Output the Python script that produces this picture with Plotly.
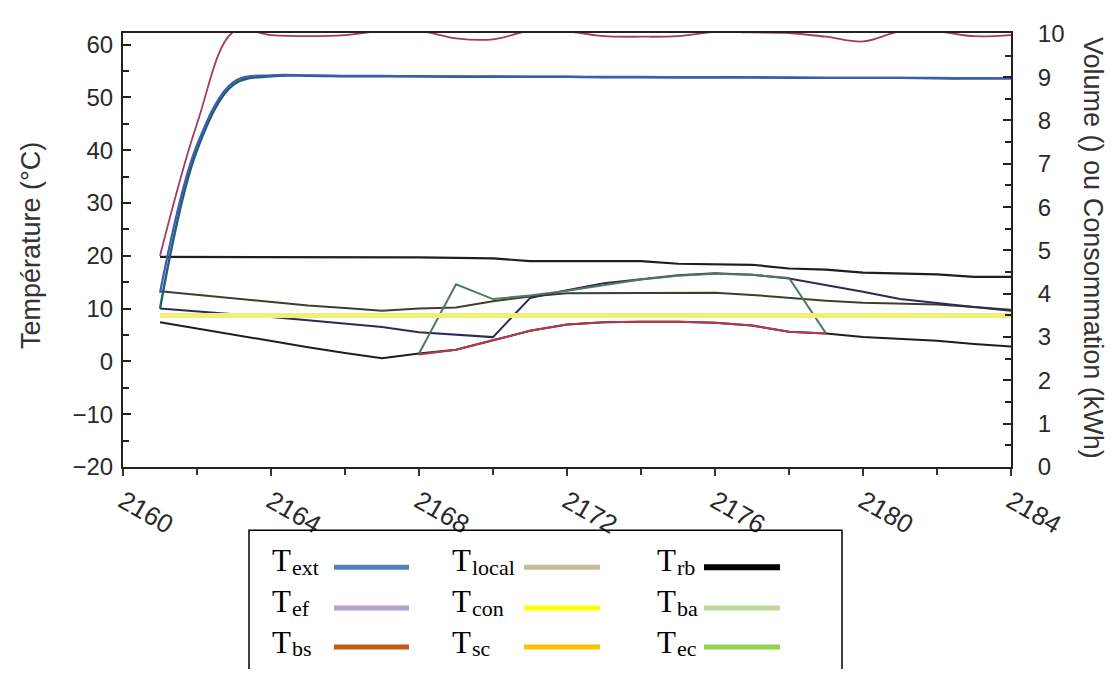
import plotly.graph_objects as go

# ---------------- data (hours 2161 .. 2184) ----------------
hours = [2161, 2162, 2163, 2164, 2165, 2166, 2167, 2168, 2169, 2170, 2171, 2172,
         2173, 2174, 2175, 2176, 2177, 2178, 2179, 2180, 2181, 2182, 2183, 2184]

t_ef = [20.0, 45.0, 62.5, 61.8, 61.6, 61.8, 62.6, 62.6, 61.2, 61.0, 62.6, 62.5,
        61.6, 61.5, 61.6, 62.4, 62.3, 62.2, 61.5, 60.6, 62.5, 62.5, 61.6, 61.8]

t_ext = [13.0, 41.0, 53.0, 54.2, 54.2, 54.1, 54.1, 54.0, 54.0, 54.0, 53.9, 53.9,
         53.9, 53.9, 53.8, 53.8, 53.8, 53.8, 53.7, 53.7, 53.7, 53.7, 53.6, 53.6]

t_ba = [10.0, 40.0, 52.5, 54.0, 54.1, 54.0, 54.0, 54.0, 53.9, 53.9, 53.9, 53.9,
        53.8, 53.8, 53.8, 53.8, 53.8, 53.7, 53.7, 53.7, 53.7, 53.6, 53.6, 53.6]

t_local = [19.8, 19.8, 19.8, 19.8, 19.8, 19.7, 19.7, 19.7, 19.6, 19.5, 19.0, 19.0,
           19.0, 19.0, 18.5, 18.4, 18.3, 17.6, 17.4, 16.8, 16.6, 16.5, 16.0, 16.0]

t_rb = [13.3, 12.6, 11.9, 11.2, 10.6, 10.1, 9.6, 10.0, 10.2, 11.4, 12.3, 12.9,
        12.9, 12.9, 13.0, 13.0, 12.6, 12.0, 11.5, 11.1, 11.0, 10.8, 10.3, 9.8]

t_bs = [10.0, 9.5, 9.0, 8.4, 7.8, 7.1, 6.5, 5.5, 5.0, 4.6, 12.0, 13.5,
        14.8, 15.6, 16.3, 16.7, 16.4, 15.7, 14.5, 13.2, 11.8, 11.0, 10.3, 9.6]

t_sc_low = [7.4, 6.2, 5.0, 3.8, 2.7, 1.6, 0.6, 1.5, 2.2, 4.0, 5.8, 7.0,
            7.4, 7.5, 7.5, 7.3, 6.8, 5.6, 5.3, 4.6, 4.2, 3.9, 3.3, 2.8]

t_red = [None, None, None, None, None, None, None, 1.3, 2.2, 4.0, 5.8, 7.0,
         7.4, 7.5, 7.5, 7.3, 6.8, 5.6, 5.3, None, None, None, None, None]

t_ec = [None, None, None, None, None, None, None, 1.5, 14.6, 11.8, 12.5, 13.4,
        14.5, 15.5, 16.2, 16.6, 16.4, 15.8, 5.3, None, None, None, None, None]

# consumption / volume (right axis)
t_con = [3.5, 3.5, 3.5, 3.5, 3.5, 3.5, 3.5, 3.5, 3.5, 3.5, 3.5, 3.5,
         3.5, 3.5, 3.5, 3.5, 3.5, 3.5, 3.5, 3.5, 3.5, 3.5, 3.5, 3.5]

x_ticks = [2160, 2164, 2168, 2172, 2176, 2180, 2184]
y2_ticks = [0, 1, 2, 3, 4, 5, 6, 7, 8, 9, 10]

legend_items = [
    ("ext", "#4F81BD"), ("ef", "#B3A2C7"), ("bs", "#C55A11"),
    ("local", "#C4BD97"), ("con", "#FFFF00"), ("sc", "#FFC000"),
    ("rb", "#000000"), ("ba", "#C3D69B"), ("ec", "#92D050"),
]

# ---------------- figure ----------------
OFF = 8                      # page body margin of the html page
W, H = 1102, 661
L, R, T, B = 115, 99, 13, 202
PW, PH = W - L - R, H - T - B


def px(x_ref):
    return (x_ref - OFF - L) / PW


def py(y_ref):
    return (H - B - (y_ref - OFF)) / PH


fig = go.Figure()

fig.add_trace(go.Scatter(x=hours, y=t_con, yaxis="y2", mode="lines", name="Tcon",
                         line=dict(color="#EFEF78", width=5), showlegend=False))


def add(y, color, name, width=2.0, dash="solid", shape="linear"):
    fig.add_trace(go.Scatter(x=hours, y=y, mode="lines", name=name,
                             line=dict(color=color, width=width, dash=dash, shape=shape),
                             showlegend=False, connectgaps=False))


add(t_local, "#1E1E1E", "Tlocal", 2.2)
add(t_rb, "#3E3E30", "Trb", 2.0)
add(t_bs, "#2B2B58", "Tbs", 2.0)
add(t_sc_low, "#1E1E1E", "Tsc", 2.0)
add(t_red, "#B8384A", "Tsc2", 2.0)
add(t_ec, "#4E7A5E", "Tec", 2.0)
add(t_ba, "#1F5F70", "Tba", 2.4, shape="spline")
add(t_ext, "#3D5DB5", "Text", 2.2, shape="spline")
add(t_ef, "#A03C62", "Tef", 1.8, shape="spline")

sans = "Liberation Sans, Arial, sans-serif"
ytickfont = dict(family=sans, size=24, color="#2a2a2a")
xtickfont = dict(family=sans, size=26, color="#2a2a2a")

fig.update_layout(
    width=W, height=H,
    margin=dict(l=L, r=R, t=T, b=B),
    paper_bgcolor="white", plot_bgcolor="white",
    xaxis=dict(range=[2160, 2184], tickvals=x_ticks, ticktext=[str(v) for v in x_ticks],
               tickangle=30, ticks="outside", ticklen=7, tickwidth=1.5, tickcolor="#333",
               minor=dict(dtick=2, tick0=2160, ticks="outside", ticklen=6, tickcolor="#333"),
               showline=True, linecolor="#222", linewidth=2, mirror=True,
               showgrid=False, zeroline=False, tickfont=xtickfont),
    yaxis=dict(range=[-20, 62.2], dtick=10, tick0=0, ticks="inside", ticklen=8,
               tickwidth=1.5, tickcolor="#222",
               minor=dict(dtick=5, ticks="inside", ticklen=6, tickcolor="#222"),
               showline=True, linecolor="#222", linewidth=2,
               showgrid=False, zeroline=False, tickfont=ytickfont,
               ticklabelstandoff=3),
    yaxis2=dict(range=[0, 10.02], tickvals=y2_ticks, ticktext=[str(v) for v in y2_ticks],
                overlaying="y", side="right", anchor="x",
                ticks="inside", ticklen=8, tickwidth=1.5, tickcolor="#222",
                minor=dict(dtick=0.5, tick0=0, ticks="inside", ticklen=6, tickcolor="#222"),
                showline=True, linecolor="#222", linewidth=2,
                showgrid=False, zeroline=False, tickfont=ytickfont,
                ticklabelstandoff=20),
)

title_font = dict(family=sans, size=27, color="#333333")
fig.add_annotation(text="Température (°C)", xref="paper", yref="paper",
                   x=px(31), y=py(240), textangle=-90, showarrow=False,
                   xanchor="center", yanchor="middle", font=title_font)
fig.add_annotation(text="Volume () ou Consommation (kWh)", xref="paper", yref="paper",
                   x=px(1093), y=py(242), textangle=90, showarrow=False,
                   xanchor="center", yanchor="middle", font=title_font)

# ---------------- custom legend box ----------------
fig.add_shape(type="rect", xref="paper", yref="paper",
              x0=px(249), x1=px(842), y0=py(532), y1=py(700),
              line=dict(color="black", width=1.5), fillcolor="rgba(0,0,0,0)")

col_T = [270, 450, 655]
col_line = [(334, 409), (524, 600), (704, 780)]
row_base = [573, 615, 657]
row_line = [570, 612, 652]
serif = "Liberation Serif, Times New Roman, serif"

for i, (sub, color) in enumerate(legend_items):
    c, r = i // 3, i % 3
    fig.add_annotation(text="T", xref="paper", yref="paper",
                       x=px(col_T[c]), y=py(row_base[r] - 10), xanchor="left",
                       yanchor="middle", showarrow=False,
                       font=dict(family=serif, size=31, color="black"))
    fig.add_annotation(text=sub, xref="paper", yref="paper",
                       x=px(col_T[c] + 20), y=py(row_base[r] - 3), xanchor="left",
                       yanchor="middle", showarrow=False,
                       font=dict(family=serif, size=22, color="black"))
    x0, x1 = col_line[c]
    fig.add_shape(type="line", xref="paper", yref="paper",
                  x0=px(x0), x1=px(x1), y0=py(row_line[r]), y1=py(row_line[r]),
                  line=dict(color=color, width=6 if sub == "rb" else 5))

fig.write_html("out.html")
